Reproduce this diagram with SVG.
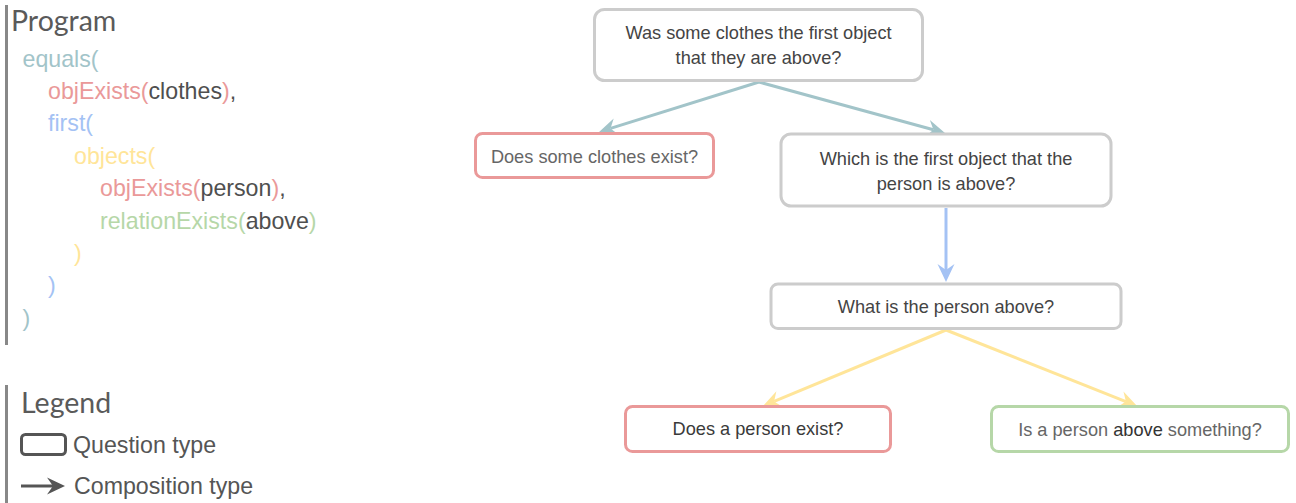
<svg xmlns="http://www.w3.org/2000/svg" width="1296" height="503" viewBox="0 0 1296 503">
<style>
.bar{stroke:#888;stroke-width:3}
.title{font-family:Lato,"Liberation Sans",sans-serif;font-size:28.5px;fill:#5a5a5a}
.code{font-family:"Liberation Sans",Arial,sans-serif;font-size:23.2px}
.teal{fill:#a2c4c9}.red{fill:#ea9999}.blue{fill:#a4c2f4}.yel{fill:#ffe599}.grn{fill:#b6d7a8}.dk{fill:#4f4f4f}
.leg{font-family:"Liberation Sans",Arial,sans-serif;font-size:23.2px;fill:#555}
.box{fill:#fff;stroke-width:3}
.gray{stroke:#cccccc}.rbox{stroke:#ea9999}.gbox{stroke:#b6d7a8}
.nt{font-family:"Liberation Sans",Arial,sans-serif;font-size:18.2px;text-anchor:middle;fill:#444}
.conn line{stroke-width:3;fill:none}
</style>
<defs>
<marker id="aT" viewBox="-19 -10 20 20" refX="-12" refY="0" markerWidth="20" markerHeight="20" markerUnits="userSpaceOnUse" orient="auto"><path d="M0,0 L-18,-8.5 L-12,0 L-18,8.5 Z" fill="#a2c4c9"/></marker>
<marker id="aB" viewBox="-19 -10 20 20" refX="-12" refY="0" markerWidth="20" markerHeight="20" markerUnits="userSpaceOnUse" orient="auto"><path d="M0,0 L-18,-8.5 L-12,0 L-18,8.5 Z" fill="#a4c2f4"/></marker>
<marker id="aY" viewBox="-19 -10 20 20" refX="-12" refY="0" markerWidth="20" markerHeight="20" markerUnits="userSpaceOnUse" orient="auto"><path d="M0,0 L-18,-8.5 L-12,0 L-18,8.5 Z" fill="#ffe599"/></marker>
<marker id="aD" viewBox="-19 -10 20 20" refX="-12" refY="0" markerWidth="20" markerHeight="20" markerUnits="userSpaceOnUse" orient="auto"><path d="M0,0 L-18,-8.5 L-12,0 L-18,8.5 Z" fill="#555"/></marker>
</defs>

<g id="program">
<line class="bar" x1="6.5" y1="5" x2="6.5" y2="345"/>
<text class="title" x="11" y="31">Program</text>
<text class="code" x="22.5" y="66.5"><tspan class="teal">equals(</tspan></text>
<text class="code" x="48" y="99"><tspan class="red">objExists(</tspan><tspan class="dk">clothes</tspan><tspan class="red">)</tspan><tspan class="dk">,</tspan></text>
<text class="code" x="48" y="131"><tspan class="blue">first(</tspan></text>
<text class="code" x="74" y="163.5"><tspan class="yel">objects(</tspan></text>
<text class="code" x="100" y="196"><tspan class="red">objExists(</tspan><tspan class="dk">person</tspan><tspan class="red">)</tspan><tspan class="dk">,</tspan></text>
<text class="code" x="100" y="228.5"><tspan class="grn">relationExists(</tspan><tspan class="dk">above</tspan><tspan class="grn">)</tspan></text>
<text class="code" x="74" y="261"><tspan class="yel">)</tspan></text>
<text class="code" x="48" y="293"><tspan class="blue">)</tspan></text>
<text class="code" x="22.5" y="325.5"><tspan class="teal">)</tspan></text>
</g>

<g id="legend">
<line class="bar" x1="6.5" y1="385" x2="6.5" y2="503"/>
<text class="title" x="21" y="413">Legend</text>
<rect x="21.5" y="434.5" width="44" height="20" rx="4" fill="none" stroke="#555" stroke-width="3"/>
<text class="leg" x="73" y="453">Question type</text>
<line x1="21" y1="486" x2="53" y2="486" stroke="#555" stroke-width="3" marker-end="url(#aD)"/>
<text class="leg" x="74" y="494">Composition type</text>
</g>

<g class="conn" id="connectors">
<line x1="759" y1="82" x2="610.5" y2="128.4" stroke="#a2c4c9" marker-end="url(#aT)"/>
<line x1="759" y1="82" x2="933.4" y2="129.8" stroke="#a2c4c9" marker-end="url(#aT)"/>
<line x1="946" y1="208" x2="946" y2="270" stroke="#a4c2f4" marker-end="url(#aB)"/>
<line x1="946" y1="330" x2="774.1" y2="401.4" stroke="#ffe599" marker-end="url(#aY)"/>
<line x1="946" y1="330" x2="1125.9" y2="401.6" stroke="#ffe599" marker-end="url(#aY)"/>
</g>

<g id="n1">
<rect class="box gray" x="594.5" y="9.5" width="328" height="71" rx="10"/>
<text class="nt" x="758.5" y="38.5">Was some clothes the first object</text>
<text class="nt" x="758.5" y="64">that they are above?</text>
</g>
<g id="n2">
<rect class="box rbox" x="475.5" y="133.5" width="238" height="44" rx="7"/>
<text class="nt" x="594.5" y="162.5" style="fill:#666">Does some clothes exist?</text>
</g>
<g id="n3">
<rect class="box gray" x="781" y="134" width="330" height="72" rx="10"/>
<text class="nt" x="946" y="165">Which is the first object that the</text>
<text class="nt" x="946" y="190">person is above?</text>
</g>
<g id="n4">
<rect class="box gray" x="771" y="284" width="350" height="44.5" rx="7"/>
<text class="nt" x="946" y="313">What is the person above?</text>
</g>
<g id="n5">
<rect class="box rbox" x="625.5" y="406.5" width="265" height="45" rx="7"/>
<text class="nt" x="758" y="435" style="fill:#3a3a3a">Does a person exist?</text>
</g>
<g id="n6">
<rect class="box gbox" x="991.5" y="406.5" width="297" height="45" rx="7"/>
<text class="nt" x="1140" y="436" style="fill:#666">Is a person <tspan style="fill:#333">above</tspan> something?</text>
</g>
</svg>
